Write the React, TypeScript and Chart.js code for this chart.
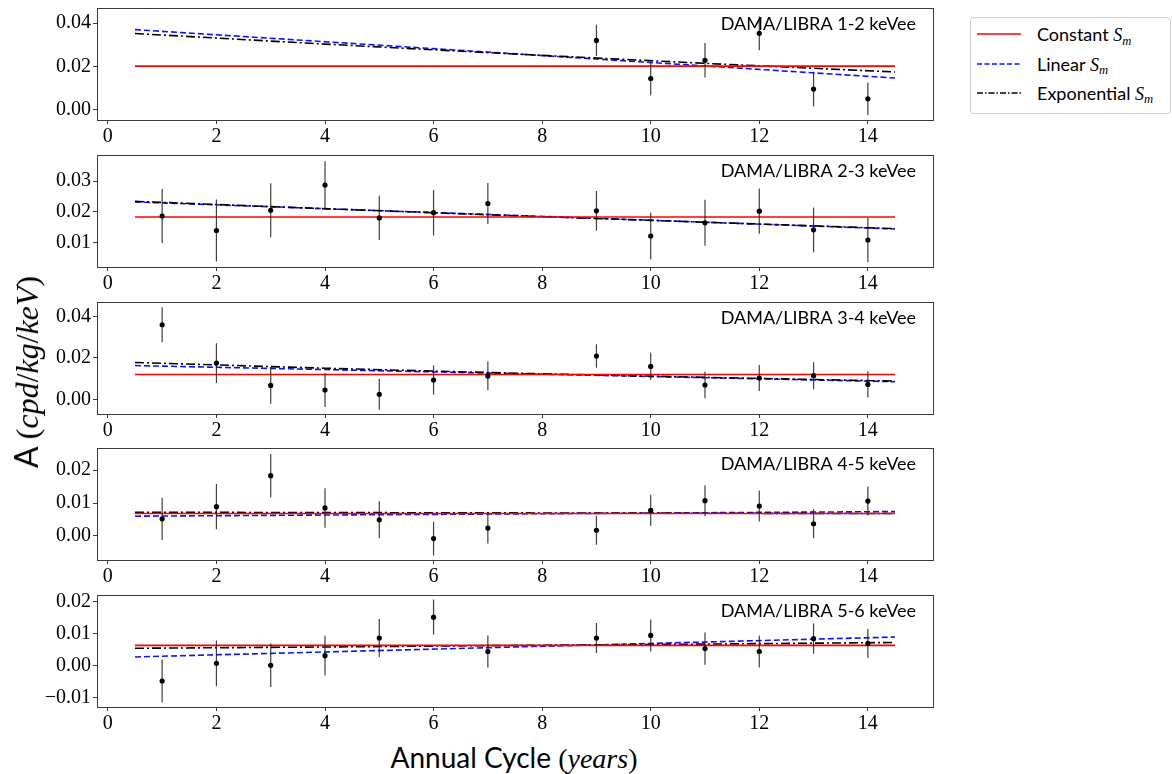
import React, { useEffect, useRef } from 'react';
import { Chart, registerables } from 'chart.js';

// Register Chart.js components
Chart.register(...registerables);

// annual cycles (cycle 8 is missing in the data set)
const cyclesAll = [1, 2, 3, 4, 5, 6, 7, 9, 10, 11, 12, 13, 14];
const cyclesLate = [9, 10, 11, 12, 13, 14];
const fitX = [0.5, 14.5];
const expX = [0.5, 4, 7.5, 11, 14.5];
const xTicks = [0, 2, 4, 6, 8, 10, 12, 14];

const binLabels = [
  'DAMA/LIBRA 1-2 keVee',
  'DAMA/LIBRA 2-3 keVee',
  'DAMA/LIBRA 3-4 keVee',
  'DAMA/LIBRA 4-5 keVee',
  'DAMA/LIBRA 5-6 keVee',
];

// modulation amplitudes and errors, cpd/kg/keV
const amp12 = [0.032, 0.0144, 0.0228, 0.0353, 0.0095, 0.005];
const err12 = [0.0072, 0.0078, 0.008, 0.0078, 0.008, 0.0075];
const amp23 = [0.0186, 0.0139, 0.0205, 0.0287, 0.018, 0.0197, 0.0227, 0.0203, 0.0121, 0.0164, 0.0202, 0.0141, 0.0108];
const err23 = [0.0088, 0.0101, 0.0088, 0.0078, 0.0072, 0.0074, 0.0067, 0.0065, 0.0076, 0.0075, 0.0074, 0.0073, 0.0072];
const amp34 = [0.036, 0.0175, 0.0067, 0.0045, 0.0024, 0.0093, 0.0113, 0.0209, 0.0159, 0.0069, 0.0103, 0.0114, 0.0072];
const err34 = [0.0085, 0.0096, 0.0089, 0.0082, 0.0074, 0.007, 0.0069, 0.0057, 0.0066, 0.0064, 0.0063, 0.0065, 0.0063];
const amp45 = [0.0052, 0.0089, 0.0183, 0.0085, 0.0049, -0.0008, 0.0024, 0.0017, 0.0078, 0.0107, 0.0091, 0.0037, 0.0106];
const err45 = [0.0064, 0.0069, 0.0066, 0.006, 0.0056, 0.0051, 0.0047, 0.0044, 0.0047, 0.0047, 0.0047, 0.0044, 0.0044];
const amp56 = [-0.0048, 0.0007, 0.0001, 0.0031, 0.0086, 0.0151, 0.0044, 0.0086, 0.0094, 0.0053, 0.0044, 0.0084, 0.0069];
const err56 = [0.0067, 0.0071, 0.0068, 0.0062, 0.0059, 0.0055, 0.005, 0.0047, 0.005, 0.005, 0.005, 0.0047, 0.0045];

// fitted S_m models
const constFit = [0.0201, 0.0183, 0.012, 0.0068, 0.0063];
const linFit12 = [0.037, 0.0146];
const linFit23 = [0.0232, 0.0144];
const linFit34 = [0.0163, 0.0085];
const linFit45 = [0.006, 0.0074];
const linFit56 = [0.0027, 0.0089];
const expFit12 = [0.0352, 0.0303, 0.0257, 0.0214, 0.0174];
const expFit23 = [0.0234, 0.021, 0.0187, 0.0166, 0.0145];
const expFit34 = [0.0178, 0.015, 0.0126, 0.0106, 0.0088];
const expFit45 = [0.0072, 0.0071, 0.007, 0.0069, 0.0068];
const expFit56 = [0.0054, 0.0058, 0.0063, 0.0067, 0.0072];

const yTicks12 = [0, 0.02, 0.04];
const yTicks23 = [0.01, 0.02, 0.03];
const yTicks34 = [0, 0.02, 0.04];
const yTicks45 = [0, 0.01, 0.02];
const yTicks56 = [-0.01, 0, 0.01, 0.02];

const yRange12 = [-0.0048, 0.047];
const yRange23 = [0.002, 0.0385];
const yRange34 = [-0.0071, 0.047];
const yRange45 = [-0.0073, 0.0267];
const yRange56 = [-0.0129, 0.022];

const panels = [
  { cycles: cyclesLate, amp: amp12, err: err12, lin: linFit12, exp: expFit12, ticks: yTicks12, range: yRange12 },
  { cycles: cyclesAll, amp: amp23, err: err23, lin: linFit23, exp: expFit23, ticks: yTicks23, range: yRange23 },
  { cycles: cyclesAll, amp: amp34, err: err34, lin: linFit34, exp: expFit34, ticks: yTicks34, range: yRange34 },
  { cycles: cyclesAll, amp: amp45, err: err45, lin: linFit45, exp: expFit45, ticks: yTicks45, range: yRange45 },
  { cycles: cyclesAll, amp: amp56, err: err56, lin: linFit56, exp: expFit56, ticks: yTicks56, range: yRange56 },
];

// layout of the stacked panels (page pixels)
const PANEL_TOP = 7;
const PANEL_STEP = 146.75;
const PANEL_H = 113;
const PLOT_LEFT = 97;
const PLOT_RIGHT = 933;
const PAD_TOP = 3;
const X_AXIS_H = 30;

const tickFont = { family: '"Liberation Serif", serif', size: 20 };

function fmtTick(v: number) {
  const s = Math.abs(v).toFixed(2);
  return Math.abs(v) < 1e-9 ? '0.00' : v < 0 ? '\u2212' + s : s;
}

// full box around the plot area, like matplotlib spines
const framePlugin = {
  id: 'frame',
  afterDraw(chart: any) {
    const { ctx, chartArea } = chart;
    ctx.save();
    ctx.strokeStyle = '#3a3a3a';
    ctx.lineWidth = 1;
    ctx.strokeRect(
      Math.round(chartArea.left) + 0.5,
      Math.round(chartArea.top) + 0.5,
      Math.round(chartArea.right - chartArea.left),
      Math.round(chartArea.bottom - chartArea.top)
    );
    ctx.restore();
  },
};

function Panel({ idx }: { idx: number }) {
  const canvasRef = useRef<HTMLCanvasElement | null>(null);
  const p = panels[idx];

  useEffect(() => {
    if (!canvasRef.current) return;

    const labelPlugin = {
      id: 'binLabel',
      afterDraw(chart: any) {
        const { ctx, chartArea } = chart;
        ctx.save();
        ctx.font = '18px Lato, sans-serif';
        ctx.fillStyle = '#000';
        ctx.textAlign = 'right';
        ctx.textBaseline = 'alphabetic';
        ctx.fillText(binLabels[idx], chartArea.right - 17, chartArea.top + 22);
        ctx.restore();
      },
    };

    const chart = new Chart(canvasRef.current, {
      type: 'line',
      data: {
        datasets: [
          {
            label: 'data',
            data: p.cycles.map((c, i) => ({ x: c, y: p.amp[i] })),
            showLine: false,
            pointRadius: 2.6,
            pointBackgroundColor: '#000',
            pointBorderWidth: 0,
            borderColor: '#000',
          },
          {
            label: 'errors',
            data: p.cycles.flatMap((c, i) => [
              { x: c, y: p.amp[i] - p.err[i] },
              { x: c, y: p.amp[i] + p.err[i] },
              { x: c, y: null },
            ]),
            borderColor: 'rgba(30,30,30,0.85)',
            borderWidth: 1.2,
            pointRadius: 0,
            spanGaps: false,
          },
          {
            label: 'Constant',
            data: fitX.map((x) => ({ x, y: constFit[idx] })),
            borderColor: '#ff0000',
            borderWidth: 1.6,
            pointRadius: 0,
          },
          {
            label: 'Exponential',
            data: expX.map((x, i) => ({ x, y: p.exp[i] })),
            borderColor: '#000',
            borderWidth: 1.6,
            borderDash: [9, 3, 2, 3],
            pointRadius: 0,
          },
          {
            label: 'Linear',
            data: fitX.map((x, i) => ({ x, y: p.lin[i] })),
            borderColor: '#1010ff',
            borderWidth: 1.6,
            borderDash: [6, 3],
            pointRadius: 0,
          },
        ],
      } as any,
      options: {
        animation: false,
        responsive: true,
        maintainAspectRatio: false,
        events: [],
        layout: { padding: { top: PAD_TOP, right: 940 - PLOT_RIGHT, left: 0, bottom: 0 } },
        plugins: {
          legend: { display: false },
          tooltip: { enabled: false },
        },
        scales: {
          x: {
            type: 'linear',
            min: -0.2,
            max: 15.2,
            afterBuildTicks: (axis: any) => {
              axis.ticks = xTicks.map((v) => ({ value: v }));
            },
            afterFit: (axis: any) => {
              axis.height = X_AXIS_H;
              axis.paddingLeft = 0;
              axis.paddingRight = 0;
            },
            grid: { drawOnChartArea: false, tickLength: 4, color: '#3a3a3a' },
            border: { display: false },
            ticks: { color: '#000', font: tickFont, padding: 1, maxRotation: 0 },
          },
          y: {
            min: p.range[0],
            max: p.range[1],
            afterBuildTicks: (axis: any) => {
              axis.ticks = p.ticks.map((v) => ({ value: v }));
            },
            afterFit: (axis: any) => {
              axis.width = PLOT_LEFT;
              axis.paddingTop = 0;
              axis.paddingBottom = 0;
            },
            grid: { drawOnChartArea: false, tickLength: 4, color: '#3a3a3a' },
            border: { display: false },
            ticks: {
              color: '#000',
              font: tickFont,
              padding: 2,
              callback: (v: any) => fmtTick(Number(v)),
            },
          },
        },
      } as any,
      plugins: [framePlugin, labelPlugin],
    });

    return () => {
      chart.destroy();
    };
  }, [idx]);

  const top = PANEL_TOP + idx * PANEL_STEP - PAD_TOP;
  return (
    <div
      style={{
        position: 'absolute',
        left: 0,
        top,
        width: 940,
        height: PAD_TOP + PANEL_H + X_AXIS_H,
      }}
    >
      <canvas ref={canvasRef}></canvas>
    </div>
  );
}

function Sm() {
  return (
    <span style={{ fontFamily: '"Liberation Serif", serif', fontStyle: 'italic' }}>
      {' '}S
      <span style={{ fontSize: '0.7em', position: 'relative', top: '0.3em' }}>m</span>
    </span>
  );
}

function LegendRow({ y, dash, color, children }: any) {
  return (
    <div style={{ position: 'absolute', left: 0, top: y - 12, height: 24, width: 200 }}>
      <svg width={46} height={24} style={{ position: 'absolute', left: 6, top: 0 }}>
        <line x1={0} y1={12} x2={44} y2={12} stroke={color} strokeWidth={1.5} strokeDasharray={dash} />
      </svg>
      <div
        style={{
          position: 'absolute',
          left: 66,
          top: 0,
          lineHeight: '24px',
          whiteSpace: 'nowrap',
        }}
      >
        {children}
      </div>
    </div>
  );
}

export default function App() {
  return (
    <div
      style={{
        position: 'absolute',
        left: 0,
        top: 0,
        width: 1172,
        height: 774,
        background: '#fff',
        overflow: 'hidden',
      }}
    >
      {panels.map((_, i) => (
        <Panel key={i} idx={i} />
      ))}

      <div
        style={{
          position: 'absolute',
          left: 26,
          top: 372,
          transform: 'translate(-50%, -50%) rotate(-90deg)',
          whiteSpace: 'nowrap',
          fontSize: 32,
          fontFamily: 'Lato, sans-serif',
          color: '#000',
        }}
      >
        A{' '}
        <span style={{ fontFamily: '"Liberation Serif", serif' }}>
          (<i>cpd</i>/<i>kg</i>/<i>keV</i>)
        </span>
      </div>

      <div
        style={{
          position: 'absolute',
          left: 514,
          top: 757,
          transform: 'translate(-50%, -50%)',
          whiteSpace: 'nowrap',
          fontSize: 28,
          fontFamily: 'Lato, sans-serif',
          color: '#000',
        }}
      >
        Annual Cycle{' '}
        <span style={{ fontFamily: '"Liberation Serif", serif' }}>
          (<i>years</i>)
        </span>
      </div>

      <div
        style={{
          position: 'absolute',
          left: 970,
          top: 17,
          width: 201,
          height: 97,
          boxSizing: 'border-box',
          border: '1px solid #cccccc',
          borderRadius: 4,
          background: '#fff',
          fontFamily: 'Lato, sans-serif',
          fontSize: 18,
          color: '#000',
        }}
      >
        <LegendRow y={16} color="#ff0000" dash="none">
          Constant<Sm />
        </LegendRow>
        <LegendRow y={45.5} color="#1010ff" dash="5 2.5">
          Linear<Sm />
        </LegendRow>
        <LegendRow y={74.5} color="#000" dash="6 2 1.5 2">
          Exponential<Sm />
        </LegendRow>
      </div>
    </div>
  );
}
